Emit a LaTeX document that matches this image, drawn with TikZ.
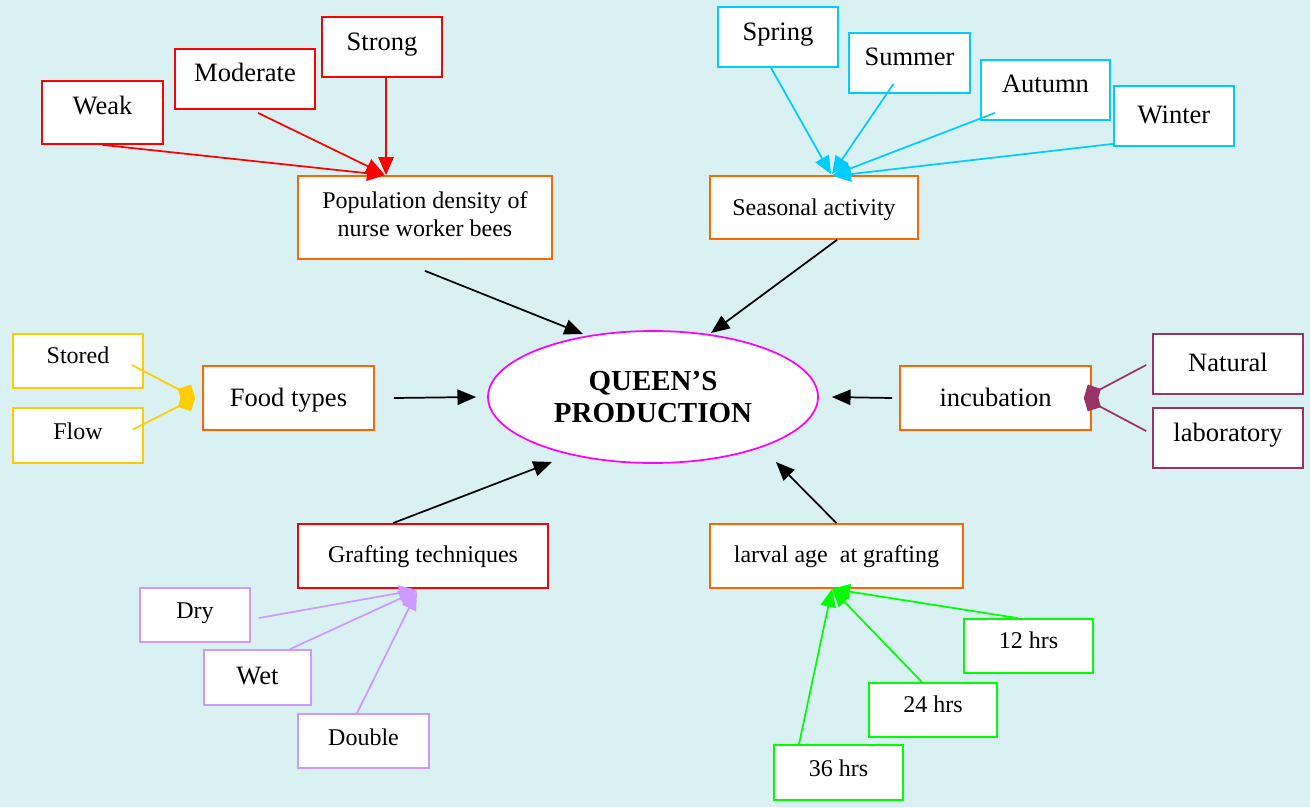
\documentclass[tikz,border=0pt]{standalone}
\usepackage{fontspec}
\setmainfont{Liberation Serif}
\usetikzlibrary{arrows.meta,shapes.geometric,calc}
\definecolor{bg}{RGB}{218,241,244}
\definecolor{cred}{RGB}{255,0,0}
\definecolor{corange}{RGB}{255,102,0}
\definecolor{ccyan}{RGB}{0,204,255}
\definecolor{cyellow}{RGB}{255,204,0}
\definecolor{cpurple}{RGB}{153,51,102}
\definecolor{clav}{RGB}{204,153,255}
\definecolor{cgreen}{RGB}{0,255,0}
\definecolor{cmag}{RGB}{255,0,255}
\begin{document}
\begin{tikzpicture}[x=0.75pt,y=-0.75pt,
  box/.style={draw, fill=white, line width=1.3pt, inner sep=0pt, align=center},
  sz/.style 2 args={minimum width=#1*0.75pt, minimum height=#2*0.75pt},
  big/.style={font=\fontsize{19.9pt}{23pt}\selectfont},
  small/.style={font=\fontsize{18pt}{21pt}\selectfont},
  bigt/.style={big, text height=13.2pt, text depth=#1},
  smallt/.style={small, text height=11.9pt, text depth=#1},
  conn/.style={line width=1.3pt},
  redarr/.style={conn, draw=cred, fill=cred, -{Triangle[length=13.5pt,width=11.5pt]}},
  cyanarr/.style={conn, draw=ccyan, fill=ccyan, -{Triangle[length=13.5pt,width=11.5pt]}},
  lavarr/.style={conn, draw=clav, fill=clav, -{Triangle[length=13.5pt,width=11.5pt]}},
  grnarr/.style={conn, draw=cgreen, fill=cgreen, -{Triangle[length=13.5pt,width=11.5pt]}},
  yelarr/.style={conn, draw=cyellow, fill=cyellow, -{Diamond[length=14.5pt,width=15pt]}},
  purarr/.style={conn, draw=cpurple, fill=cpurple, -{Diamond[length=14.5pt,width=15pt]}},
  blkarr/.style={conn, draw=black, -{Triangle[length=14pt,width=11.5pt]}}
]
\fill[bg] (0,0) rectangle (1310,807);
\useasboundingbox (0,0) rectangle (1310,807);

% red cluster
\node[box, draw=cred, sz={121}{63}, bigt=10.5pt] (weak) at (102.5,112.5) {Weak};
\node[box, draw=cred, sz={140}{60}, bigt=9pt] (moderate) at (245,79) {Moderate};
\node[box, draw=cred, sz={120}{60}, bigt=7.5pt] (strong) at (382,47) {Strong};
\node[box, draw=corange, sz={254}{83}, small] (pop) at (425,217.5) {Population density of\\nurse worker bees\rule[-4.5pt]{0pt}{0pt}};

% cyan cluster
\node[box, draw=ccyan, sz={120}{60}, bigt=7.5pt] (spring) at (778,37) {Spring};
\node[box, draw=ccyan, sz={121}{60}, bigt=9pt] (summer) at (909.5,63) {Summer};
\node[box, draw=ccyan, sz={129}{60}, bigt=9pt] (autumn) at (1045.5,90) {Autumn};
\node[box, draw=ccyan, sz={120}{60}, bigt=1.5pt] (winter) at (1174,116) {Winter};
\node[box, draw=corange, sz={208}{63}, smallt=0pt] (seas) at (814,207.5) {Seasonal activity};

% yellow cluster
\node[box, draw=cyellow, sz={130}{54}, smallt=7.5pt] (stored) at (78,361) {Stored};
\node[box, draw=cyellow, sz={130}{55}, smallt=6pt] (flow) at (78,435.5) {Flow};
\node[box, draw=corange, sz={171}{64}, bigt=0pt] (food) at (288.5,398) {Food types};

% centre
\node[ellipse, draw=cmag, fill=white, line width=1.3pt, inner sep=0pt,
      minimum width=330*0.75pt, minimum height=132*0.75pt, align=center,
      font=\fontsize{21.75pt}{24pt}\selectfont\bfseries] (q) at (653,397) {QUEEN’S\\PRODUCTION};

% purple cluster
\node[box, draw=corange, sz={191}{64}, bigt=0pt] (incub) at (995.5,398) {incubation};
\node[box, draw=cpurple, sz={150}{60}, bigt=1.5pt] (natural) at (1228,364) {Natural};
\node[box, draw=cpurple, sz={150}{60}, bigt=7.5pt] (lab) at (1228,438) {laboratory};

% lavender cluster
\node[box, draw=cred, sz={250}{64}, smallt=1.5pt] (graft) at (423,556) {Grafting techniques};
\node[box, draw=clav, sz={110}{54}, smallt=6pt] (dry) at (195,615) {Dry};
\node[box, draw=clav, sz={107}{55}, bigt=2.25pt] (wet) at (257.5,677.5) {Wet};
\node[box, draw=clav, sz={131}{54}, smallt=4.5pt] (double) at (363.5,741) {Double};

% green cluster
\node[box, draw=corange, sz={253}{64}, smallt=1.5pt] (larval) at (836.5,556) {larval age~ at grafting};
\node[box, draw=cgreen, sz={129}{54}, smallt=7.5pt] (h12) at (1028.5,646) {12 hrs};
\node[box, draw=cgreen, sz={128}{54}, smallt=7.5pt] (h24) at (933,710) {24 hrs};
\node[box, draw=cgreen, sz={129}{55}, smallt=6pt] (h36) at (838.5,772.5) {36 hrs};

% red connectors
\draw[redarr] (weak.south) -- ($(pop.north)+(-40,0)$);
\draw[redarr] ($(moderate.south)+(13,3)$) -- ($(pop.north)+(-41,-1)$);
\draw[redarr] ($(strong.south)+(4,0)$) -- ($(pop.north)+(-39,0)$);

% cyan connectors
\draw[cyanarr] ($(spring.south)+(-7,0)$) -- ($(seas.north)+(17,-1)$);
\draw[cyanarr] ($(summer.south)+(-16,-10)$) -- ($(seas.north)+(18,-1)$);
\draw[cyanarr] ($(autumn.south west)+(15,-8)$) -- ($(seas.north)+(19,0)$);
\draw[cyanarr] ($(winter.south west)+(0,-3)$) -- ($(seas.north)+(19,1)$);

% yellow connectors
\draw[yelarr] ($(stored.east)+(-12,4)$) -- ($(food.west)+(-7,0)$);
\draw[yelarr] ($(flow.east)+(-11,-6)$) -- ($(food.west)+(-7,0)$);

% purple connectors
\draw[purarr] ($(natural.west)+(-6,1)$) -- ($(incub.east)+(-8,0)$);
\draw[purarr] ($(lab.west)+(-6,-7)$) -- ($(incub.east)+(-8,0)$);

% lavender connectors
\draw[lavarr] ($(dry.east)+(8,3)$) -- ($(graft.south)+(-6,1)$);
\draw[lavarr] ($(wet.north)+(32.5,0)$) -- ($(graft.south)+(-6,2)$);
\draw[lavarr] ($(double.north)+(-6.5,0)$) -- ($(graft.south)+(-6,3)$);

% green connectors
\draw[grnarr] ($(h12.north)+(-10.5,0)$) -- ($(larval.south)+(-4.5,0)$);
\draw[grnarr] ($(h24.north)+(-11,0)$) -- ($(larval.south)+(-4.5,0)$);
\draw[grnarr] ($(h36.north)+(-39.5,0)$) -- ($(larval.south)+(-4.5,0)$);

% black connectors to centre
\draw[blkarr] ($(pop.south)+(0,11)$) -- ($(q.center)+(-70,-63)$);
\draw[blkarr] ($(seas.south)+(23,0)$) -- ($(q.center)+(58,-64)$);
\draw[blkarr] ($(food.east)+(19,0)$) -- ($(q.west)+(-11,0)$);
\draw[blkarr] ($(incub.west)+(-7,0)$) -- ($(q.east)+(13,0)$);
\draw[blkarr] ($(graft.north)+(-30,0)$) -- ($(q.center)+(-101,65)$);
\draw[blkarr] (larval.north) -- ($(q.center)+(123,65)$);
\end{tikzpicture}
\end{document}
